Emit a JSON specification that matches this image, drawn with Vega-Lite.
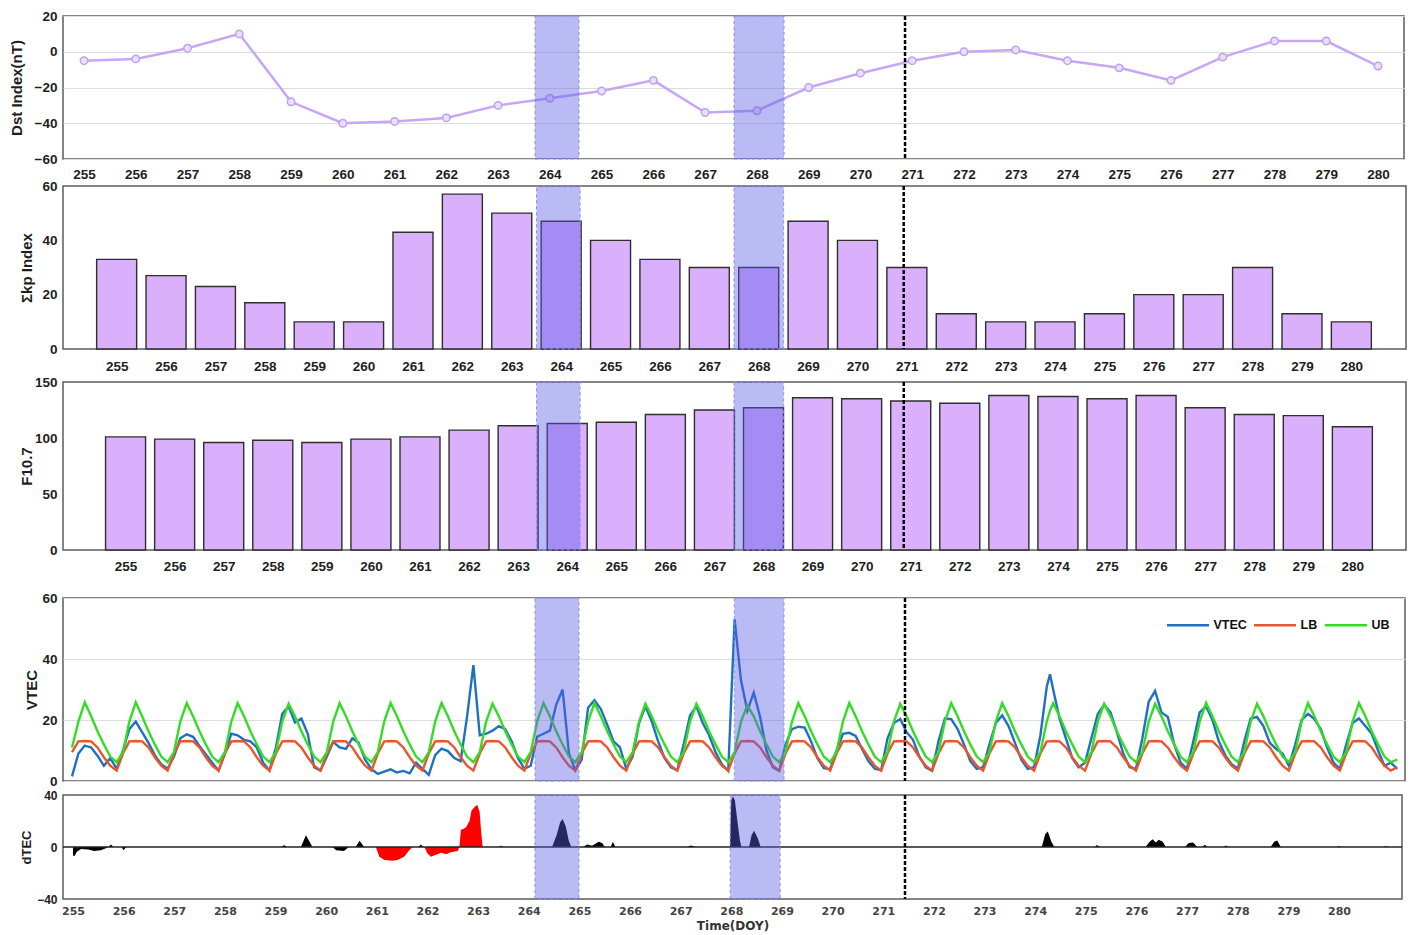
{
  "$schema": "https://vega.github.io/schema/vega-lite/v6.json",
  "background": "white",
  "padding": {"left": 8, "top": 8, "right": 2, "bottom": 0},
  "config": {
    "view": {"stroke": "#5c5c5c", "strokeWidth": 1.5},
    "axis": {"labelFont": "Liberation Sans", "labelFontWeight": "bold", "labelFontSize": 13.5, "labelColor": "#1e1e1e", "titleFont": "Liberation Sans", "titleFontWeight": "bold", "titleFontSize": 15, "titleColor": "#1e1e1e", "ticks": false, "tickSize": 0, "domain": false, "grid": false, "gridColor": "#dcdcdc", "gridWidth": 1},
    "axisX": {"labelFlush": false, "labelOverlap": false},
    "axisY": {"labelPadding": 6}
  },
  "resolve": {"scale": {"color": "independent"}, "legend": {"color": "independent"}},
  "datasets": {
    "daily": [
      {"t":255,"dst":-5,"kp":33,"f107":101},{"t":256,"dst":-4,"kp":27,"f107":99},{"t":257,"dst":2,"kp":23,"f107":96},{"t":258,"dst":10,"kp":17,"f107":98},{"t":259,"dst":-28,"kp":10,"f107":96},{"t":260,"dst":-40,"kp":10,"f107":99},{"t":261,"dst":-39,"kp":43,"f107":101},{"t":262,"dst":-37,"kp":57,"f107":107},{"t":263,"dst":-30,"kp":50,"f107":111},{"t":264,"dst":-26,"kp":47,"f107":113},{"t":265,"dst":-22,"kp":40,"f107":114},{"t":266,"dst":-16,"kp":33,"f107":121},{"t":267,"dst":-34,"kp":30,"f107":125},{"t":268,"dst":-33,"kp":30,"f107":127},{"t":269,"dst":-20,"kp":47,"f107":136},{"t":270,"dst":-12,"kp":40,"f107":135},{"t":271,"dst":-5,"kp":30,"f107":133},{"t":272,"dst":0,"kp":13,"f107":131},{"t":273,"dst":1,"kp":10,"f107":138},{"t":274,"dst":-5,"kp":10,"f107":137},{"t":275,"dst":-9,"kp":13,"f107":135},{"t":276,"dst":-16,"kp":20,"f107":138},{"t":277,"dst":-3,"kp":20,"f107":127},{"t":278,"dst":6,"kp":30,"f107":121},{"t":279,"dst":6,"kp":13,"f107":120},{"t":280,"dst":-8,"kp":10,"f107":110}
    ],
    "tec": [
      {"t":255,"VTEC":1.5,"LB":9.5,"UB":11},{"t":255.125,"VTEC":9,"LB":13,"UB":19.5},{"t":255.25,"VTEC":11.6,"LB":13.1,"UB":25.8},{"t":255.375,"VTEC":11,"LB":13,"UB":21.2},{"t":255.5,"VTEC":8.3,"LB":11,"UB":16.3},{"t":255.625,"VTEC":5,"LB":7.8,"UB":12},{"t":255.75,"VTEC":7.5,"LB":5,"UB":8},{"t":255.875,"VTEC":4,"LB":3.4,"UB":6.2},
      {"t":256,"VTEC":10,"LB":9,"UB":9.5},{"t":256.125,"VTEC":17,"LB":13,"UB":19.5},{"t":256.25,"VTEC":19.5,"LB":13.1,"UB":25.8},{"t":256.375,"VTEC":16,"LB":13,"UB":21.2},{"t":256.5,"VTEC":12.5,"LB":11,"UB":16.3},{"t":256.625,"VTEC":8.5,"LB":7.8,"UB":12},{"t":256.75,"VTEC":5.5,"LB":5,"UB":8},{"t":256.875,"VTEC":4,"LB":3.4,"UB":6.2},
      {"t":257,"VTEC":8,"LB":9,"UB":9.5},{"t":257.125,"VTEC":14,"LB":13,"UB":19.5},{"t":257.25,"VTEC":15.3,"LB":13.1,"UB":25.5},{"t":257.375,"VTEC":14.5,"LB":13,"UB":21.2},{"t":257.5,"VTEC":11.5,"LB":11,"UB":16.3},{"t":257.625,"VTEC":8.8,"LB":7.8,"UB":12},{"t":257.75,"VTEC":6,"LB":5,"UB":8},{"t":257.875,"VTEC":3.4,"LB":3.4,"UB":6.2},
      {"t":258,"VTEC":9,"LB":9,"UB":9.5},{"t":258.125,"VTEC":15.5,"LB":13,"UB":19.5},{"t":258.25,"VTEC":15,"LB":13.1,"UB":25.5},{"t":258.375,"VTEC":13.5,"LB":13,"UB":21.2},{"t":258.5,"VTEC":13,"LB":11,"UB":16.3},{"t":258.625,"VTEC":11,"LB":7.8,"UB":12},{"t":258.75,"VTEC":6,"LB":5,"UB":8},{"t":258.875,"VTEC":3.4,"LB":3.4,"UB":6.2},
      {"t":259,"VTEC":11,"LB":9,"UB":9.5},{"t":259.125,"VTEC":22,"LB":13,"UB":19.5},{"t":259.25,"VTEC":24.5,"LB":13.1,"UB":25.3},{"t":259.375,"VTEC":19.2,"LB":13,"UB":21.2},{"t":259.5,"VTEC":20.5,"LB":11,"UB":16.3},{"t":259.625,"VTEC":15.5,"LB":7.8,"UB":12},{"t":259.75,"VTEC":4.5,"LB":5,"UB":8},{"t":259.875,"VTEC":3.4,"LB":3.4,"UB":6.2},
      {"t":260,"VTEC":8,"LB":9,"UB":9.5},{"t":260.125,"VTEC":12.8,"LB":13,"UB":19.5},{"t":260.25,"VTEC":11,"LB":13.1,"UB":25.5},{"t":260.375,"VTEC":10.5,"LB":13,"UB":21.2},{"t":260.5,"VTEC":14,"LB":11,"UB":16.3},{"t":260.625,"VTEC":12.5,"LB":7.8,"UB":12},{"t":260.75,"VTEC":7,"LB":5,"UB":8},{"t":260.875,"VTEC":3.9,"LB":3.4,"UB":6.2},
      {"t":261,"VTEC":2.3,"LB":9,"UB":9.5},{"t":261.125,"VTEC":3.1,"LB":13,"UB":19.5},{"t":261.25,"VTEC":3.8,"LB":13.1,"UB":25.6},{"t":261.375,"VTEC":2.8,"LB":13,"UB":21.2},{"t":261.5,"VTEC":3.3,"LB":11,"UB":16.3},{"t":261.625,"VTEC":2.5,"LB":7.8,"UB":12},{"t":261.75,"VTEC":6,"LB":5,"UB":8},{"t":261.875,"VTEC":4,"LB":3.4,"UB":6.2},
      {"t":262,"VTEC":2,"LB":9,"UB":9.5},{"t":262.125,"VTEC":8.5,"LB":13,"UB":19.5},{"t":262.25,"VTEC":10.6,"LB":13.1,"UB":25.6},{"t":262.375,"VTEC":9.8,"LB":13,"UB":21.2},{"t":262.5,"VTEC":7.5,"LB":11,"UB":16.3},{"t":262.625,"VTEC":6.5,"LB":7.8,"UB":12},{"t":262.75,"VTEC":21,"LB":5,"UB":8},{"t":262.875,"VTEC":38,"LB":3.4,"UB":6.2},
      {"t":263,"VTEC":15,"LB":9,"UB":9.5},{"t":263.125,"VTEC":15.5,"LB":13,"UB":19.5},{"t":263.25,"VTEC":16.5,"LB":13.1,"UB":25.3},{"t":263.375,"VTEC":18,"LB":13,"UB":21.2},{"t":263.5,"VTEC":17,"LB":11,"UB":16.3},{"t":263.625,"VTEC":13,"LB":7.8,"UB":12},{"t":263.75,"VTEC":7.5,"LB":5,"UB":8},{"t":263.875,"VTEC":4,"LB":3.4,"UB":6.2},
      {"t":264,"VTEC":5,"LB":9,"UB":9.5},{"t":264.125,"VTEC":14.5,"LB":13,"UB":19.5},{"t":264.25,"VTEC":15.5,"LB":13.1,"UB":25.5},{"t":264.375,"VTEC":16.5,"LB":13,"UB":21.2},{"t":264.5,"VTEC":25,"LB":11,"UB":16.3},{"t":264.625,"VTEC":30,"LB":7.8,"UB":12},{"t":264.75,"VTEC":9,"LB":5,"UB":8},{"t":264.875,"VTEC":3.5,"LB":3.4,"UB":6.2},
      {"t":265,"VTEC":7,"LB":9,"UB":9.5},{"t":265.125,"VTEC":24,"LB":13,"UB":19.5},{"t":265.25,"VTEC":26.5,"LB":13.1,"UB":25.6},{"t":265.375,"VTEC":23.6,"LB":13,"UB":21.2},{"t":265.5,"VTEC":18.5,"LB":11,"UB":16.3},{"t":265.625,"VTEC":13,"LB":7.8,"UB":12},{"t":265.75,"VTEC":11,"LB":5,"UB":8},{"t":265.875,"VTEC":4,"LB":3.4,"UB":6.2},
      {"t":266,"VTEC":8,"LB":9,"UB":9.5},{"t":266.125,"VTEC":19,"LB":13,"UB":19.5},{"t":266.25,"VTEC":24.5,"LB":13.1,"UB":25.3},{"t":266.375,"VTEC":19.5,"LB":13,"UB":21.2},{"t":266.5,"VTEC":13,"LB":11,"UB":16.3},{"t":266.625,"VTEC":7.5,"LB":7.8,"UB":12},{"t":266.75,"VTEC":4.5,"LB":5,"UB":8},{"t":266.875,"VTEC":3.5,"LB":3.4,"UB":6.2},
      {"t":267,"VTEC":12,"LB":9,"UB":9.5},{"t":267.125,"VTEC":21.5,"LB":13,"UB":19.5},{"t":267.25,"VTEC":24.5,"LB":13.1,"UB":25.3},{"t":267.375,"VTEC":19,"LB":13,"UB":21.2},{"t":267.5,"VTEC":15,"LB":11,"UB":16.3},{"t":267.625,"VTEC":9.5,"LB":7.8,"UB":12},{"t":267.75,"VTEC":5.5,"LB":5,"UB":8},{"t":267.875,"VTEC":3.3,"LB":3.4,"UB":6.2},
      {"t":268,"VTEC":53,"LB":9,"UB":9.5},{"t":268.125,"VTEC":33,"LB":13,"UB":19.5},{"t":268.25,"VTEC":23,"LB":13.1,"UB":24.8},{"t":268.375,"VTEC":29,"LB":13,"UB":21.2},{"t":268.5,"VTEC":21,"LB":11,"UB":16.3},{"t":268.625,"VTEC":10,"LB":7.8,"UB":12},{"t":268.75,"VTEC":4.5,"LB":5,"UB":8},{"t":268.875,"VTEC":3.3,"LB":3.4,"UB":6.2},
      {"t":269,"VTEC":12,"LB":9,"UB":9.5},{"t":269.125,"VTEC":17,"LB":13,"UB":19.5},{"t":269.25,"VTEC":17.8,"LB":13.1,"UB":25.5},{"t":269.375,"VTEC":17.5,"LB":13,"UB":21.2},{"t":269.5,"VTEC":13,"LB":11,"UB":16.3},{"t":269.625,"VTEC":7.5,"LB":7.8,"UB":12},{"t":269.75,"VTEC":4.2,"LB":5,"UB":8},{"t":269.875,"VTEC":3.9,"LB":3.4,"UB":6.2},
      {"t":270,"VTEC":10,"LB":9,"UB":9.5},{"t":270.125,"VTEC":15.5,"LB":13,"UB":19.5},{"t":270.25,"VTEC":15.8,"LB":13.1,"UB":25.6},{"t":270.375,"VTEC":14.8,"LB":13,"UB":21.2},{"t":270.5,"VTEC":10.5,"LB":11,"UB":16.3},{"t":270.625,"VTEC":6.5,"LB":7.8,"UB":12},{"t":270.75,"VTEC":4,"LB":5,"UB":8},{"t":270.875,"VTEC":3.5,"LB":3.4,"UB":6.2},
      {"t":271,"VTEC":14,"LB":9,"UB":9.5},{"t":271.125,"VTEC":19,"LB":13,"UB":19.5},{"t":271.25,"VTEC":20.3,"LB":13.1,"UB":25.3},{"t":271.375,"VTEC":16,"LB":13,"UB":21.2},{"t":271.5,"VTEC":13.5,"LB":11,"UB":16.3},{"t":271.625,"VTEC":8,"LB":7.8,"UB":12},{"t":271.75,"VTEC":4.5,"LB":5,"UB":8},{"t":271.875,"VTEC":3.3,"LB":3.4,"UB":6.2},
      {"t":272,"VTEC":13,"LB":9,"UB":9.5},{"t":272.125,"VTEC":20.5,"LB":13,"UB":19.5},{"t":272.25,"VTEC":20.3,"LB":13.1,"UB":25.5},{"t":272.375,"VTEC":17,"LB":13,"UB":21.2},{"t":272.5,"VTEC":12,"LB":11,"UB":16.3},{"t":272.625,"VTEC":6.5,"LB":7.8,"UB":12},{"t":272.75,"VTEC":4,"LB":5,"UB":8},{"t":272.875,"VTEC":4.5,"LB":3.4,"UB":6.2},
      {"t":273,"VTEC":12,"LB":9,"UB":9.5},{"t":273.125,"VTEC":19,"LB":13,"UB":19.5},{"t":273.25,"VTEC":21.5,"LB":13.1,"UB":25.5},{"t":273.375,"VTEC":18,"LB":13,"UB":21.2},{"t":273.5,"VTEC":12.5,"LB":11,"UB":16.3},{"t":273.625,"VTEC":7,"LB":7.8,"UB":12},{"t":273.75,"VTEC":4,"LB":5,"UB":8},{"t":273.875,"VTEC":4.5,"LB":3.4,"UB":6.2},
      {"t":274,"VTEC":15,"LB":9,"UB":9.5},{"t":274.125,"VTEC":31,"LB":13,"UB":19.5},{"t":274.1875,"VTEC":35,"LB":13,"UB":23},{"t":274.25,"VTEC":30,"LB":13.1,"UB":25.5},{"t":274.375,"VTEC":20.5,"LB":13,"UB":21.2},{"t":274.5,"VTEC":14,"LB":11,"UB":16.3},{"t":274.625,"VTEC":7.5,"LB":7.8,"UB":12},{"t":274.75,"VTEC":4.5,"LB":5,"UB":8},{"t":274.875,"VTEC":6,"LB":3.4,"UB":6.2},
      {"t":275,"VTEC":14,"LB":9,"UB":9.5},{"t":275.125,"VTEC":22,"LB":13,"UB":19.5},{"t":275.25,"VTEC":25,"LB":13.1,"UB":25.3},{"t":275.375,"VTEC":22.5,"LB":13,"UB":21.2},{"t":275.5,"VTEC":16,"LB":11,"UB":16.3},{"t":275.625,"VTEC":9,"LB":7.8,"UB":12},{"t":275.75,"VTEC":4.5,"LB":5,"UB":8},{"t":275.875,"VTEC":4,"LB":3.4,"UB":6.2},
      {"t":276,"VTEC":14,"LB":9,"UB":9.5},{"t":276.125,"VTEC":26,"LB":13,"UB":19.5},{"t":276.25,"VTEC":29.5,"LB":13.1,"UB":25.3},{"t":276.375,"VTEC":22.5,"LB":13,"UB":21.2},{"t":276.5,"VTEC":21,"LB":11,"UB":16.3},{"t":276.625,"VTEC":12,"LB":7.8,"UB":12},{"t":276.75,"VTEC":6,"LB":5,"UB":8},{"t":276.875,"VTEC":4,"LB":3.4,"UB":6.2},
      {"t":277,"VTEC":13,"LB":9,"UB":9.5},{"t":277.125,"VTEC":22.5,"LB":13,"UB":19.5},{"t":277.25,"VTEC":24.5,"LB":13.1,"UB":25.6},{"t":277.375,"VTEC":20,"LB":13,"UB":21.2},{"t":277.5,"VTEC":13,"LB":11,"UB":16.3},{"t":277.625,"VTEC":8.5,"LB":7.8,"UB":12},{"t":277.75,"VTEC":5.5,"LB":5,"UB":8},{"t":277.875,"VTEC":4,"LB":3.4,"UB":6.2},
      {"t":278,"VTEC":13,"LB":9,"UB":9.5},{"t":278.125,"VTEC":20.5,"LB":13,"UB":19.5},{"t":278.25,"VTEC":21,"LB":13.1,"UB":25.3},{"t":278.375,"VTEC":18,"LB":13,"UB":21.2},{"t":278.5,"VTEC":12.5,"LB":11,"UB":16.3},{"t":278.625,"VTEC":10.5,"LB":7.8,"UB":12},{"t":278.75,"VTEC":9,"LB":5,"UB":8},{"t":278.875,"VTEC":5,"LB":3.4,"UB":6.2},
      {"t":279,"VTEC":12,"LB":9,"UB":9.5},{"t":279.125,"VTEC":20,"LB":13,"UB":19.5},{"t":279.25,"VTEC":22,"LB":13.1,"UB":25.5},{"t":279.375,"VTEC":20.3,"LB":13,"UB":21.2},{"t":279.5,"VTEC":17,"LB":11,"UB":16.3},{"t":279.625,"VTEC":11,"LB":7.8,"UB":12},{"t":279.75,"VTEC":6,"LB":5,"UB":8},{"t":279.875,"VTEC":4,"LB":3.4,"UB":6.2},
      {"t":280,"VTEC":12,"LB":9,"UB":9.5},{"t":280.125,"VTEC":19,"LB":13,"UB":19.5},{"t":280.25,"VTEC":20.5,"LB":13.1,"UB":25.5},{"t":280.375,"VTEC":18,"LB":13,"UB":21.2},{"t":280.5,"VTEC":15.5,"LB":11,"UB":16.3},{"t":280.625,"VTEC":10,"LB":7.8,"UB":12},{"t":280.75,"VTEC":5,"LB":5,"UB":8},{"t":280.875,"VTEC":6,"LB":3.4,"UB":6.2},
      {"t":281,"VTEC":4,"LB":4.5,"UB":7}
    ],
    "dtec": [
      {"t":255,"d":-6.5,"c":"k"},{"t":255.03,"d":-7,"c":"k"},{"t":255.08,"d":-3.5,"c":"k"},{"t":255.16,"d":-1.5,"c":"k"},{"t":255.3,"d":-2,"c":"k"},{"t":255.42,"d":-3,"c":"k"},{"t":255.55,"d":-2.5,"c":"k"},{"t":255.65,"d":-1,"c":"k"},{"t":255.7,"d":0,"c":"k"},{"t":255.75,"d":2,"c":"k"},{"t":255.8,"d":0,"c":"k"},{"t":255.96,"d":0,"c":"k"},{"t":256,"d":-2.5,"c":"k"},{"t":256.05,"d":0,"c":"k"},
      {"t":259.12,"d":0,"c":"k"},{"t":259.17,"d":1.5,"c":"k"},{"t":259.22,"d":0,"c":"k"},{"t":259.5,"d":0,"c":"k"},{"t":259.6,"d":9,"c":"k"},{"t":259.73,"d":0,"c":"k"},{"t":260.12,"d":0,"c":"k"},{"t":260.2,"d":-2.5,"c":"k"},{"t":260.35,"d":-3,"c":"k"},{"t":260.45,"d":0,"c":"k"},{"t":260.58,"d":0,"c":"k"},{"t":260.66,"d":4.8,"c":"k"},{"t":260.75,"d":0,"c":"k"},
      {"t":261.82,"d":0,"c":"k"},{"t":261.87,"d":2,"c":"k"},{"t":261.92,"d":0,"c":"k"},{"t":263.4,"d":0,"c":"k"},{"t":263.45,"d":1,"c":"k"},{"t":263.5,"d":0,"c":"k"},
      {"t":264.46,"d":0,"c":"k"},{"t":264.55,"d":9,"c":"k"},{"t":264.62,"d":19,"c":"k"},{"t":264.67,"d":21.5,"c":"k"},{"t":264.73,"d":16,"c":"k"},{"t":264.79,"d":5,"c":"k"},{"t":264.84,"d":0,"c":"k"},
      {"t":265.08,"d":0,"c":"k"},{"t":265.15,"d":2,"c":"k"},{"t":265.25,"d":1,"c":"k"},{"t":265.38,"d":4,"c":"k"},{"t":265.45,"d":3,"c":"k"},{"t":265.5,"d":0,"c":"k"},{"t":265.62,"d":0,"c":"k"},{"t":265.66,"d":4,"c":"k"},{"t":265.71,"d":0,"c":"k"},
      {"t":267.12,"d":0,"c":"k"},{"t":267.2,"d":1.2,"c":"k"},{"t":267.3,"d":0,"c":"k"},
      {"t":267.975,"d":0,"c":"k"},{"t":268,"d":36,"c":"k"},{"t":268.03,"d":39,"c":"k"},{"t":268.07,"d":36,"c":"k"},{"t":268.12,"d":20,"c":"k"},{"t":268.17,"d":5,"c":"k"},{"t":268.2,"d":0,"c":"k"},{"t":268.35,"d":0,"c":"k"},{"t":268.4,"d":9,"c":"k"},{"t":268.45,"d":12.5,"c":"k"},{"t":268.52,"d":7,"c":"k"},{"t":268.58,"d":0,"c":"k"},
      {"t":274.13,"d":0,"c":"k"},{"t":274.2,"d":10,"c":"k"},{"t":274.25,"d":12,"c":"k"},{"t":274.32,"d":4,"c":"k"},{"t":274.38,"d":0,"c":"k"},{"t":275.18,"d":0,"c":"k"},{"t":275.22,"d":1.5,"c":"k"},{"t":275.28,"d":0,"c":"k"},
      {"t":276.18,"d":0,"c":"k"},{"t":276.26,"d":4,"c":"k"},{"t":276.32,"d":6,"c":"k"},{"t":276.38,"d":3.5,"c":"k"},{"t":276.44,"d":5.5,"c":"k"},{"t":276.52,"d":4,"c":"k"},{"t":276.58,"d":0,"c":"k"},
      {"t":276.96,"d":0,"c":"k"},{"t":277.03,"d":3,"c":"k"},{"t":277.12,"d":3.5,"c":"k"},{"t":277.2,"d":0,"c":"k"},{"t":277.3,"d":0,"c":"k"},{"t":277.35,"d":1.8,"c":"k"},{"t":277.4,"d":0,"c":"k"},{"t":277.72,"d":0,"c":"k"},{"t":277.77,"d":1.2,"c":"k"},{"t":277.82,"d":0,"c":"k"},
      {"t":278.65,"d":0,"c":"k"},{"t":278.72,"d":4,"c":"k"},{"t":278.78,"d":5,"c":"k"},{"t":278.85,"d":0,"c":"k"},{"t":279.95,"d":0,"c":"k"},{"t":280,"d":0.8,"c":"k"},{"t":280.05,"d":0,"c":"k"},{"t":280.88,"d":0,"c":"k"},{"t":280.93,"d":0.6,"c":"k"},{"t":281,"d":0,"c":"k"},
      {"t":260.98,"d":0,"c":"r"},{"t":261.05,"d":-7.5,"c":"r"},{"t":261.15,"d":-10,"c":"r"},{"t":261.31,"d":-10.5,"c":"r"},{"t":261.41,"d":-10,"c":"r"},{"t":261.54,"d":-7.5,"c":"r"},{"t":261.64,"d":-2.5,"c":"r"},{"t":261.71,"d":0,"c":"r"},
      {"t":261.94,"d":0,"c":"r"},{"t":262,"d":-5,"c":"r"},{"t":262.07,"d":-7.5,"c":"r"},{"t":262.13,"d":-6.5,"c":"r"},{"t":262.27,"d":-4.5,"c":"r"},{"t":262.37,"d":-5.5,"c":"r"},{"t":262.46,"d":-4,"c":"r"},{"t":262.6,"d":-3,"c":"r"},{"t":262.63,"d":0,"c":"r"},
      {"t":262.66,"d":13,"c":"r"},{"t":262.76,"d":15,"c":"r"},{"t":262.83,"d":20,"c":"r"},{"t":262.87,"d":28,"c":"r"},{"t":262.96,"d":32,"c":"r"},{"t":262.99,"d":32,"c":"r"},{"t":263.03,"d":27,"c":"r"},{"t":263.06,"d":12,"c":"r"},{"t":263.09,"d":0,"c":"r"}
    ],
    "bands": [
      {"p":1,"t":263.713,"e":264.563},{"p":1,"t":267.558,"e":268.524},
      {"p":2,"t":263.501,"e":264.385},{"p":2,"t":267.5,"e":268.505},
      {"p":3,"t":263.374,"e":264.264},{"p":3,"t":267.398,"e":268.41},
      {"p":4,"t":264.084,"e":264.947},{"p":4,"t":267.995,"e":268.969},
      {"p":5,"t":264.123,"e":264.992},{"p":5,"t":267.977,"e":268.964}
    ],
    "dash": [
      {"p":1,"t":270.862},{"p":2,"t":270.936},{"p":3,"t":270.858},{"p":4,"t":271.343},{"p":5,"t":271.43}
    ]
  },
  "spacing": 16,
  "vconcat": [
    {
      "spacing": 0,
      "vconcat": [
        {
          "spacing": -4,
          "vconcat": [
            {
              "width": 1341, "height": 143,
              "encoding": {"x": {"field": "t", "type": "quantitative", "scale": {"domain": [254.594, 280.502], "nice": false, "zero": false}, "axis": {"values": [255,256,257,258,259,260,261,262,263,264,265,266,267,268,269,270,271,272,273,274,275,276,277,278,279,280], "format": "d", "title": null, "labelPadding": 8.5}}},
              "layer": [
                {"data": {"name": "daily"}, "mark": {"type": "line", "color": "#c7a6f7", "strokeWidth": 2.5},
                 "encoding": {"y": {"field": "dst", "type": "quantitative", "scale": {"domain": [-60, 20], "nice": false, "zero": false}, "axis": {"values": [-60,-40,-20,0,20], "title": "Dst Index(nT)", "grid": true, "titlePadding": 9.5}}}},
                {"data": {"name": "daily"}, "mark": {"type": "point", "filled": true, "fill": "#ebdffd", "stroke": "#c19ef5", "strokeWidth": 1.5, "size": 55, "opacity": 1},
                 "encoding": {"y": {"field": "dst", "type": "quantitative", "scale": {"domain": [-60, 20], "nice": false, "zero": false}, "axis": {"values": [-60,-40,-20,0,20], "title": "Dst Index(nT)", "grid": true, "titlePadding": 9.5}}}},
                {"data": {"name": "bands"}, "transform": [{"filter": "datum.p == 1"}], "mark": {"type": "rect", "fill": "#5b5be8", "fillOpacity": 0.42, "stroke": "#8f8fe6", "strokeWidth": 1, "strokeDash": [3, 3]},
                 "encoding": {"x2": {"field": "e"}}},
                {"data": {"name": "dash"}, "transform": [{"filter": "datum.p == 1"}], "mark": {"type": "rule", "color": "#000000", "strokeWidth": 2.5, "strokeDash": [4, 2]}, "encoding": {}}
              ]
            },
            {
              "width": 1343, "height": 163,
              "encoding": {"x": {"field": "t", "type": "quantitative", "scale": {"domain": [254.015, 281.005], "nice": false, "zero": false}, "axis": {"values": [255,256,257,258,259,260,261,262,263,264,265,266,267,268,269,270,271,272,273,274,275,276,277,278,279,280], "format": "d", "title": null, "labelPadding": 10}}},
              "layer": [
                {"data": {"name": "daily"}, "mark": {"type": "bar", "orient": "vertical", "width": 40, "fill": "#dab0fd", "stroke": "#2e2e2e", "strokeWidth": 1.4},
                 "encoding": {"y": {"field": "kp", "type": "quantitative", "scale": {"domain": [0, 60], "nice": false}, "axis": {"values": [0,20,40,60], "title": "Σkp Index", "titlePadding": 7}}}},
                {"data": {"name": "bands"}, "transform": [{"filter": "datum.p == 2"}], "mark": {"type": "rect", "fill": "#5b5be8", "fillOpacity": 0.42, "stroke": "#8f8fe6", "strokeWidth": 1, "strokeDash": [3, 3]},
                 "encoding": {"x2": {"field": "e"}}},
                {"data": {"name": "dash"}, "transform": [{"filter": "datum.p == 2"}], "mark": {"type": "rule", "color": "#000000", "strokeWidth": 2.5, "strokeDash": [4, 2]}, "encoding": {}}
              ]
            }
          ]
        },
        {
          "width": 1343, "height": 168,
          "encoding": {"x": {"field": "t", "type": "quantitative", "scale": {"domain": [253.827, 280.991], "nice": false, "zero": false}, "axis": {"values": [255,256,257,258,259,260,261,262,263,264,265,266,267,268,269,270,271,272,273,274,275,276,277,278,279,280], "format": "d", "title": null, "labelPadding": 9}}},
          "layer": [
            {"data": {"name": "daily"}, "mark": {"type": "bar", "orient": "vertical", "width": 40, "fill": "#dab0fd", "stroke": "#2e2e2e", "strokeWidth": 1.4},
             "encoding": {"y": {"field": "f107", "type": "quantitative", "scale": {"domain": [0, 150], "nice": false}, "axis": {"values": [0,50,100,150], "title": "F10.7", "titlePadding": 0}}}},
            {"data": {"name": "bands"}, "transform": [{"filter": "datum.p == 3"}], "mark": {"type": "rect", "fill": "#5b5be8", "fillOpacity": 0.42, "stroke": "#8f8fe6", "strokeWidth": 1, "strokeDash": [3, 3]},
             "encoding": {"x2": {"field": "e"}}},
            {"data": {"name": "dash"}, "transform": [{"filter": "datum.p == 3"}], "mark": {"type": "rule", "color": "#000000", "strokeWidth": 2.5, "strokeDash": [4, 2]}, "encoding": {}}
          ]
        }
      ]
    },
    {
      "spacing": -1,
      "resolve": {"scale": {"color": "independent"}, "legend": {"color": "independent"}},
      "vconcat": [
        {
          "width": 1342, "height": 183,
          "encoding": {"x": {"field": "t", "type": "quantitative", "scale": {"domain": [254.823, 281.153], "nice": false, "zero": false}, "axis": null}},
          "layer": [
            {"data": {"name": "tec"}, "transform": [{"fold": ["VTEC", "LB", "UB"], "as": ["series", "val"]}], "mark": {"type": "line", "strokeWidth": 2.4},
             "encoding": {
               "y": {"field": "val", "type": "quantitative", "scale": {"domain": [0, 60], "nice": false}, "axis": {"values": [0,20,40,60], "title": "VTEC", "grid": true, "titlePadding": 2}},
               "color": {"field": "series", "type": "nominal", "scale": {"domain": ["VTEC", "LB", "UB"], "range": ["#1f70c1", "#e8562b", "#35dc26"]},
                         "legend": {"title": null, "orient": "top-right", "direction": "horizontal", "offset": 15, "padding": 0, "symbolType": "M-2,0H2", "symbolSize": 441, "symbolStrokeWidth": 2.5, "labelFont": "Liberation Sans", "labelFontWeight": "bold", "labelFontSize": 12.5, "labelColor": "#111111", "labelOffset": 13.5, "columnPadding": 2}}
             }},
            {"data": {"name": "bands"}, "transform": [{"filter": "datum.p == 4"}], "mark": {"type": "rect", "fill": "#5b5be8", "fillOpacity": 0.42, "stroke": "#8f8fe6", "strokeWidth": 1, "strokeDash": [3, 3]},
             "encoding": {"x2": {"field": "e"}}},
            {"data": {"name": "dash"}, "transform": [{"filter": "datum.p == 4"}], "mark": {"type": "rule", "color": "#000000", "strokeWidth": 2.5, "strokeDash": [4, 2]}, "encoding": {}}
          ]
        },
        {
          "width": 1339, "height": 104,
          "encoding": {"x": {"field": "t", "type": "quantitative", "scale": {"domain": [254.803, 281.244], "nice": false, "zero": false}, "axis": {"values": [255,256,257,258,259,260,261,262,263,264,265,266,267,268,269,270,271,272,273,274,275,276,277,278,279,280], "format": "d", "title": "Time(DOY)", "labelFont": "DejaVu Sans", "labelFontSize": 11, "labelColor": "#444444", "labelPadding": 6, "titleFont": "DejaVu Sans", "titleFontSize": 12, "titleColor": "#333333", "titlePadding": 4}}},
          "layer": [
            {"data": {"name": "dtec"}, "mark": {"type": "area", "opacity": 1},
             "encoding": {
               "y": {"field": "d", "type": "quantitative", "stack": null, "scale": {"domain": [-40, 40], "nice": false}, "axis": {"values": [-40, 0, 40], "title": "dTEC", "labelFontSize": 12, "titleFontSize": 13, "titlePadding": 3}},
               "color": {"field": "c", "type": "nominal", "scale": {"domain": ["k", "r"], "range": ["#000000", "#ff0000"]}, "legend": null}
             }},
            {"data": {"name": "dash"}, "transform": [{"filter": "datum.p == 5"}], "mark": {"type": "rule", "color": "#222222", "strokeWidth": 1.5},
             "encoding": {"x": {"value": 0}, "x2": {"value": 1339}, "y": {"datum": 0, "type": "quantitative", "scale": {"domain": [-40, 40], "nice": false}, "axis": {"values": [-40, 0, 40], "title": "dTEC", "labelFontSize": 12, "titleFontSize": 13, "titlePadding": 3}}}},
            {"data": {"name": "bands"}, "transform": [{"filter": "datum.p == 5"}], "mark": {"type": "rect", "fill": "#5b5be8", "fillOpacity": 0.42, "stroke": "#8f8fe6", "strokeWidth": 1, "strokeDash": [3, 3]},
             "encoding": {"x2": {"field": "e"}}},
            {"data": {"name": "dash"}, "transform": [{"filter": "datum.p == 5"}], "mark": {"type": "rule", "color": "#000000", "strokeWidth": 2.5, "strokeDash": [4, 2]}, "encoding": {}}
          ]
        }
      ]
    }
  ]
}
